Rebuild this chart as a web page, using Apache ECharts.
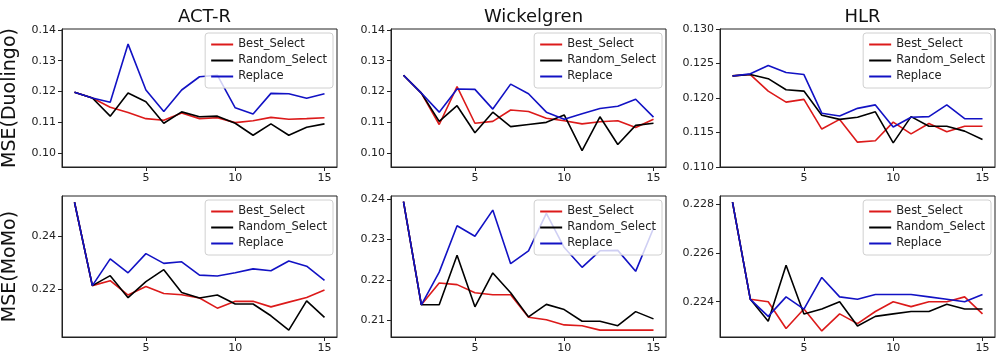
<!DOCTYPE html>
<html>
<head>
<meta charset="utf-8">
<script src="https://cdn.jsdelivr.net/npm/echarts@6/dist/echarts.min.js"></script>
<style>
  html, body { margin: 0; padding: 0; background: #fff; }
  #chart { width: 999px; height: 362px; }
</style>
</head>
<body>
<div id="chart"></div>
<script>
// number of selection rounds on the x axis
const steps = [1, 2, 3, 4, 5, 6, 7, 8, 9, 10, 11, 12, 13, 14, 15];
const seriesNames = ["Best_Select", "Random_Select", "Replace"];
const modelTitles = ["ACT-R", "Wickelgren", "HLR"];
const rowNames = ["MSE(Duolingo)", "MSE(MoMo)"];

// Duolingo row
const actrDuoBest = [0.1198, 0.1179, 0.1149, 0.1132, 0.1112, 0.1107, 0.1130, 0.1112, 0.1115, 0.1099, 0.1105, 0.1116, 0.1110, 0.1112, 0.1115];
const actrDuoRandom = [0.1198, 0.1179, 0.1120, 0.1195, 0.1167, 0.1097, 0.1134, 0.1118, 0.1120, 0.1097, 0.1058, 0.1095, 0.1058, 0.1084, 0.1095];
const actrDuoReplace = [0.1198, 0.1179, 0.1165, 0.1354, 0.1205, 0.1135, 0.1205, 0.1248, 0.1253, 0.1147, 0.1127, 0.1194, 0.1193, 0.1178, 0.1193];

const wickDuoBest = [0.1253, 0.1195, 0.1093, 0.1216, 0.1097, 0.1103, 0.1140, 0.1135, 0.1113, 0.1105, 0.1095, 0.1102, 0.1105, 0.1083, 0.1110];
const wickDuoRandom = [0.1253, 0.1195, 0.1103, 0.1154, 0.1066, 0.1133, 0.1086, 0.1093, 0.1100, 0.1124, 0.1008, 0.1118, 0.1028, 0.1090, 0.1097];
const wickDuoReplace = [0.1253, 0.1195, 0.1133, 0.1208, 0.1207, 0.1143, 0.1224, 0.1193, 0.1133, 0.1110, 0.1128, 0.1145, 0.1152, 0.1175, 0.1117];

const hlrDuoBest = [0.1232, 0.1234, 0.1210, 0.1194, 0.1198, 0.1155, 0.1169, 0.1136, 0.1138, 0.1165, 0.1148, 0.1163, 0.1151, 0.1159, 0.1159];
const hlrDuoRandom = [0.1232, 0.1234, 0.1228, 0.1212, 0.1210, 0.1175, 0.1169, 0.1172, 0.1180, 0.1135, 0.1173, 0.1159, 0.1159, 0.1152, 0.1140];
const hlrDuoReplace = [0.1232, 0.1235, 0.1247, 0.1237, 0.1234, 0.1178, 0.1174, 0.1185, 0.1190, 0.1158, 0.1172, 0.1173, 0.1190, 0.1170, 0.1170];

// MoMo row
const actrMoBest = [0.2531, 0.2213, 0.2232, 0.2177, 0.2210, 0.2183, 0.2178, 0.2166, 0.2127, 0.2153, 0.2153, 0.2132, 0.2150, 0.2168, 0.2196];
const actrMoRandom = [0.2531, 0.2213, 0.2251, 0.2167, 0.2228, 0.2274, 0.2187, 0.2166, 0.2177, 0.2143, 0.2143, 0.2098, 0.2043, 0.2155, 0.2092];
const actrMoReplace = [0.2531, 0.2213, 0.2315, 0.2262, 0.2335, 0.2298, 0.2304, 0.2253, 0.2250, 0.2262, 0.2277, 0.2270, 0.2307, 0.2287, 0.2233];

const wickMoBest = [0.2394, 0.2138, 0.2192, 0.2188, 0.2168, 0.2163, 0.2163, 0.2107, 0.2101, 0.2088, 0.2086, 0.2075, 0.2075, 0.2075, 0.2075];
const wickMoRandom = [0.2394, 0.2138, 0.2138, 0.2261, 0.2133, 0.2217, 0.2168, 0.2108, 0.2139, 0.2126, 0.2097, 0.2097, 0.2086, 0.2121, 0.2103];
const wickMoReplace = [0.2394, 0.2138, 0.2219, 0.2334, 0.2308, 0.2373, 0.2240, 0.2272, 0.2365, 0.2280, 0.2231, 0.2272, 0.2273, 0.2221, 0.2328];

const hlrMoBest = [0.2281, 0.2241, 0.2240, 0.2229, 0.2237, 0.2228, 0.2235, 0.2231, 0.2236, 0.2240, 0.2238, 0.2240, 0.2240, 0.2242, 0.2235];
const hlrMoRandom = [0.2281, 0.2241, 0.2232, 0.2255, 0.2235, 0.2237, 0.2240, 0.2230, 0.2234, 0.2235, 0.2236, 0.2236, 0.2239, 0.2237, 0.2237];
const hlrMoReplace = [0.2281, 0.2241, 0.2234, 0.2242, 0.2237, 0.2250, 0.2242, 0.2241, 0.2243, 0.2243, 0.2243, 0.2242, 0.2241, 0.2240, 0.2243];

// tick labels
const xTicks = [5, 10, 15];
const duoTicks = [0.10, 0.11, 0.12, 0.13, 0.14];
const hlrDuoTicks = [0.110, 0.115, 0.120, 0.125, 0.130];
const actrMoTicks = [0.22, 0.24];
const wickMoTicks = [0.21, 0.22, 0.23, 0.24];
const hlrMoTicks = [0.224, 0.226, 0.228];

const panels = [
  { row: 0, col: 0, data: [actrDuoBest, actrDuoRandom, actrDuoReplace], min: 0.0955, max: 0.1403, ticks: duoTicks, dec: 2 },
  { row: 0, col: 1, data: [wickDuoBest, wickDuoRandom, wickDuoReplace], min: 0.0955, max: 0.1403, ticks: duoTicks, dec: 2 },
  { row: 0, col: 2, data: [hlrDuoBest, hlrDuoRandom, hlrDuoReplace], min: 0.110, max: 0.130, ticks: hlrDuoTicks, dec: 3 },
  { row: 1, col: 0, data: [actrMoBest, actrMoRandom, actrMoReplace], min: 0.2017, max: 0.2555, ticks: actrMoTicks, dec: 2 },
  { row: 1, col: 1, data: [wickMoBest, wickMoRandom, wickMoReplace], min: 0.2058, max: 0.2408, ticks: wickMoTicks, dec: 2 },
  { row: 1, col: 2, data: [hlrMoBest, hlrMoRandom, hlrMoReplace], min: 0.22255, max: 0.22835, ticks: hlrMoTicks, dec: 3 }
];

const colors = ["#dc1a1a", "#000000", "#1212c4"];
const font = "DejaVu Sans";
const colLeft = [62, 391, 720];
const gridW = 275;
const rowTop = [29, 196];
const rowH = [138, 141];

const grids = [], xAxes = [], yAxes = [], series = [], legends = [], titles = [];

modelTitles.forEach((t, c) => {
  titles.push({
    text: t,
    left: colLeft[c] + gridW / 2,
    top: 3,
    textAlign: "center",
    textStyle: { fontFamily: font, fontSize: 18, fontWeight: "normal", color: "#111" }
  });
});

panels.forEach((p, i) => {
  const left = colLeft[p.col];
  const top = rowTop[p.row];
  grids.push({
    left: left, top: top, width: gridW, height: rowH[p.row],
    show: true, borderColor: "#222", borderWidth: 1, backgroundColor: "#fff"
  });
  xAxes.push({
    type: "value", gridIndex: i, min: 0.3, max: 15.7,
    splitLine: { show: false },
    axisLine: { lineStyle: { color: "#222" } },
    axisTick: { length: 4, customValues: xTicks, lineStyle: { color: "#222" } },
    axisLabel: { customValues: xTicks, fontFamily: font, fontSize: 11, color: "#222", margin: 6 }
  });
  yAxes.push({
    type: "value", gridIndex: i, min: p.min, max: p.max,
    name: p.col === 0 ? rowNames[p.row] : "",
    nameLocation: "middle", nameRotate: 90, nameGap: 42,
    nameTextStyle: { fontFamily: font, fontSize: 19, color: "#111" },
    splitLine: { show: false },
    axisLine: { lineStyle: { color: "#222" } },
    axisTick: { length: 4, customValues: p.ticks, lineStyle: { color: "#222" } },
    axisLabel: {
      customValues: p.ticks, fontFamily: font, fontSize: 11, color: "#222", margin: 6,
      formatter: v => v.toFixed(p.dec)
    }
  });
  p.data.forEach((vals, s) => {
    series.push({
      name: seriesNames[s],
      type: "line",
      xAxisIndex: i, yAxisIndex: i,
      data: steps.map((x, k) => [x, vals[k]]),
      showSymbol: false, symbol: "none",
      lineStyle: { width: 1.6, color: colors[s] },
      itemStyle: { color: colors[s] },
      animation: false, silent: true
    });
  });
  legends.push({
    data: seriesNames,
    orient: "vertical",
    right: 999 - (left + gridW) + 4,
    top: top + 4,
    icon: "rect",
    itemWidth: 22, itemHeight: 2, itemGap: 3,
    padding: [5, 6, 5, 6],
    backgroundColor: "rgba(255,255,255,0.8)",
    borderColor: "#d0d0d0", borderWidth: 1, borderRadius: 3,
    textStyle: { fontFamily: font, fontSize: 11.5, color: "#222", lineHeight: 13 },
    selectedMode: false
  });
});

const chart = echarts.init(document.getElementById("chart"), null, { renderer: "canvas" });
chart.setOption({
  animation: false,
  backgroundColor: "#fff",
  title: titles,
  grid: grids,
  xAxis: xAxes,
  yAxis: yAxes,
  legend: legends,
  series: series
});
</script>
</body>
</html>
